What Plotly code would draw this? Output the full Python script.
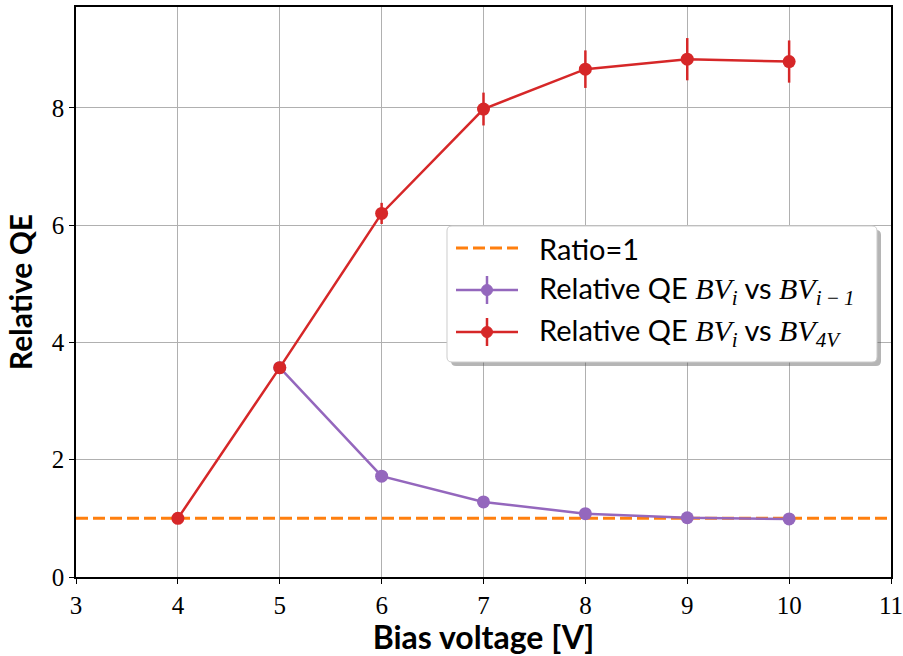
import plotly.graph_objects as go

# Bias voltage scan: relative quantum efficiency
bias_red = [4, 5, 6, 7, 8, 9, 10]
qe_vs_4v = [1.0, 3.57, 6.20, 7.98, 8.66, 8.83, 8.79]
qe_vs_4v_err = [0.03, 0.08, 0.18, 0.28, 0.32, 0.36, 0.36]

bias_purple = [5, 6, 7, 8, 9, 10]
qe_vs_prev = [3.57, 1.72, 1.28, 1.08, 1.01, 0.99]
qe_vs_prev_err = [0.08, 0.04, 0.03, 0.02, 0.02, 0.02]

ratio_x = [3, 11]
ratio_y = [1, 1]

RED = "#d62728"
PURPLE = "#9467bd"
ORANGE = "#ff7f0e"

W, H = 903, 656
ML, MR, MT, MB = 76, 12, 7, 79
PW = W - ML - MR
PH = H - MT - MB


def px(x):
    return (x - ML) / PW


def py(y):
    return (H - MB - y) / PH


def rounded_rect(x0, y0, x1, y1, r):
    pts = [
        ("M", [(x0 + r, y0)]),
        ("L", [(x1 - r, y0)]), ("Q", [(x1, y0), (x1, y0 + r)]),
        ("L", [(x1, y1 - r)]), ("Q", [(x1, y1), (x1 - r, y1)]),
        ("L", [(x0 + r, y1)]), ("Q", [(x0, y1), (x0, y1 - r)]),
        ("L", [(x0, y0 + r)]), ("Q", [(x0, y0), (x0 + r, y0)]),
    ]
    out = []
    for cmd, coords in pts:
        out.append(cmd + " " + " ".join(f"{px(a):.5f},{py(b):.5f}" for a, b in coords))
    return " ".join(out) + " Z"


def math(s):
    return f"<span style='font-family:Liberation Serif;font-size:30px'><i>{s}</i></span>"


fig = go.Figure()

fig.add_trace(go.Scatter(
    x=ratio_x, y=ratio_y, mode="lines", name="Ratio=1",
    line=dict(color=ORANGE, width=3, dash="12px,5px"),
))
fig.add_trace(go.Scatter(
    x=bias_purple, y=qe_vs_prev, mode="lines+markers",
    name="Relative QE BV_i vs BV_{i-1}",
    line=dict(color=PURPLE, width=2.5),
    marker=dict(color=PURPLE, size=13),
    error_y=dict(type="data", array=qe_vs_prev_err, color=PURPLE, thickness=2.5, width=0),
))
fig.add_trace(go.Scatter(
    x=bias_red, y=qe_vs_4v, mode="lines+markers",
    name="Relative QE BV_i vs BV_4V",
    line=dict(color=RED, width=2.5),
    marker=dict(color=RED, size=13),
    error_y=dict(type="data", array=qe_vs_4v_err, color=RED, thickness=2.5, width=0),
))

# Legend box with drop shadow
bx0, by0, bx1, by1 = 447, 226, 877, 362
shapes = [
    dict(type="path", xref="paper", yref="paper",
         path=rounded_rect(bx0 + 4, by0 + 4, bx1 + 4, by1 + 4, 5),
         fillcolor="rgba(90,90,90,0.45)", line=dict(width=0)),
    dict(type="path", xref="paper", yref="paper",
         path=rounded_rect(bx0, by0, bx1, by1, 5),
         fillcolor="white", line=dict(color="#cccccc", width=1)),
]

rows = [
    (248, ORANGE, "dash", "Ratio=1"),
    (290, PURPLE, "err",
     "Relative QE " + math("BV<sub>i</sub>") + " vs " + math("BV<sub>i\u2009−\u20091</sub>")),
    (332, RED, "err",
     "Relative QE " + math("BV<sub>i</sub>") + " vs " + math("BV<sub>4V</sub>")),
]
annotations = []
for yy, col, kind, label in rows:
    if kind == "dash":
        shapes.append(dict(type="line", xref="paper", yref="paper",
                           x0=px(456), x1=px(518), y0=py(yy), y1=py(yy),
                           line=dict(color=ORANGE, width=3, dash="12px,5px")))
    else:
        shapes.append(dict(type="line", xref="paper", yref="paper",
                           x0=px(456), x1=px(518), y0=py(yy), y1=py(yy),
                           line=dict(color=col, width=2.5)))
        shapes.append(dict(type="line", xref="paper", yref="paper",
                           x0=px(487), x1=px(487), y0=py(yy - 14), y1=py(yy + 14),
                           line=dict(color=col, width=2.5)))
        shapes.append(dict(type="circle", xref="paper", yref="paper",
                           x0=px(481.5), x1=px(492.5), y0=py(yy - 5.5), y1=py(yy + 5.5),
                           fillcolor=col, line=dict(color=col, width=1)))
    annotations.append(dict(
        xref="paper", yref="paper", x=px(537), y=py(yy),
        xanchor="left", yanchor="middle", showarrow=False, text=label,
        font=dict(family="Lato", size=29, color="black"),
    ))

axis_common = dict(
    showline=True, linecolor="black", linewidth=1.5, mirror=True,
    ticks="outside", ticklen=5, tickwidth=1.2, tickcolor="black",
    showgrid=True, gridcolor="#b0b0b0", gridwidth=1, zeroline=False,
    automargin=False, ticklabeloverflow="allow",
    tickfont=dict(family="Liberation Serif", size=25, color="black"),
)

fig.update_layout(
    width=W, height=H,
    margin=dict(l=ML, r=MR, t=MT, b=MB),
    paper_bgcolor="white", plot_bgcolor="white",
    showlegend=False,
    shapes=shapes,
    annotations=annotations,
    xaxis=dict(
        range=[3, 11], dtick=1, tick0=3,
        title=dict(text="<b>Bias voltage [V]</b>", standoff=2,
                   font=dict(family="Lato", size=32, color="black")),
        **axis_common,
    ),
    yaxis=dict(
        range=[0, 9.72], dtick=2, tick0=0,
        title=dict(text="<b>Relative QE</b>", standoff=10,
                   font=dict(family="Lato", size=30, color="black")),
        **axis_common,
    ),
)

fig.write_html("out.html")
